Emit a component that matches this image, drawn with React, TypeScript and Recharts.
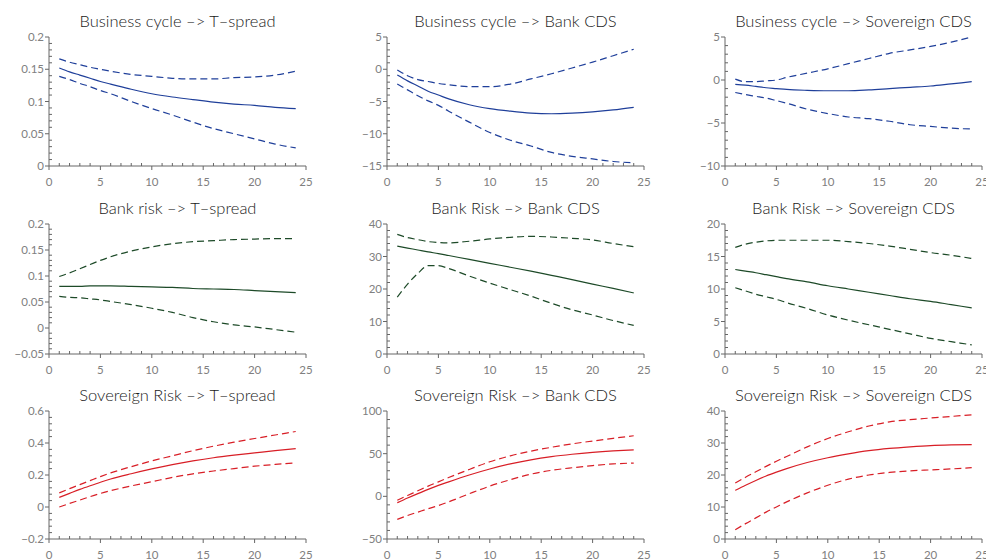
import { LineChart, Line, XAxis, YAxis } from 'recharts';

// horizon (x) at which the impulse responses are read
const steps = [1, 2, 3, 4, 5, 6, 8, 10, 12, 14, 16, 18, 20, 22, 24];
const xTickLabels = [0, 5, 10, 15, 20, 25];

// Business cycle -> T-spread
const bcTsIrf = [0.152, 0.146, 0.141, 0.136, 0.131, 0.127, 0.119, 0.112, 0.107, 0.103, 0.099, 0.096, 0.094, 0.091, 0.089];
const bcTsUp = [0.166, 0.161, 0.157, 0.153, 0.15, 0.147, 0.142, 0.139, 0.136, 0.135, 0.135, 0.137, 0.138, 0.141, 0.147];
const bcTsLo = [0.139, 0.134, 0.128, 0.123, 0.117, 0.112, 0.1, 0.089, 0.079, 0.068, 0.058, 0.05, 0.042, 0.034, 0.028];

// Business cycle -> Bank CDS
const bcBankIrf = [-0.9, -1.8, -2.6, -3.4, -4.0, -4.6, -5.5, -6.1, -6.5, -6.8, -6.9, -6.8, -6.6, -6.3, -5.9];
const bcBankUp = [-0.1, -1.0, -1.6, -1.9, -2.2, -2.4, -2.7, -2.7, -2.3, -1.5, -0.7, 0.2, 1.1, 2.1, 3.1];
const bcBankLo = [-2.3, -3.2, -4.1, -4.9, -5.6, -6.5, -8.2, -9.8, -11.0, -11.9, -12.9, -13.5, -13.9, -14.3, -14.5];

// Business cycle -> Sovereign CDS
const bcSovIrf = [-0.5, -0.6, -0.75, -0.9, -1.0, -1.1, -1.2, -1.25, -1.25, -1.15, -1.0, -0.85, -0.7, -0.45, -0.2];
const bcSovUp = [0.1, -0.2, -0.2, -0.1, 0.0, 0.3, 0.8, 1.3, 1.9, 2.5, 3.1, 3.5, 3.9, 4.4, 5.0];
const bcSovLo = [-1.45, -1.7, -1.9, -2.1, -2.4, -2.7, -3.4, -3.9, -4.3, -4.5, -4.8, -5.2, -5.4, -5.6, -5.7];

// Bank risk -> T-spread
const brTsIrf = [0.08, 0.08, 0.08, 0.081, 0.081, 0.081, 0.08, 0.079, 0.078, 0.076, 0.075, 0.074, 0.072, 0.07, 0.068];
const brTsUp = [0.099, 0.106, 0.114, 0.122, 0.13, 0.137, 0.148, 0.156, 0.162, 0.166, 0.168, 0.17, 0.171, 0.172, 0.172];
const brTsLo = [0.061, 0.059, 0.058, 0.056, 0.054, 0.051, 0.045, 0.038, 0.03, 0.02, 0.012, 0.006, 0.002, -0.003, -0.008];

// Bank Risk -> Bank CDS
const brBankIrf = [33.2, 32.6, 32.0, 31.4, 30.9, 30.3, 29.1, 27.9, 26.7, 25.5, 24.2, 22.9, 21.5, 20.2, 18.8];
const brBankUp = [36.8, 35.8, 35.2, 34.6, 34.3, 34.2, 34.7, 35.4, 35.9, 36.2, 36.0, 35.6, 35.1, 34.0, 33.0];
const brBankLo = [17.5, 21.5, 24.8, 27.2, 27.2, 26.3, 24.0, 21.8, 19.8, 17.8, 15.6, 13.6, 12.0, 10.3, 8.8];

// Bank Risk -> Sovereign CDS
const brSovIrf = [13.0, 12.75, 12.5, 12.2, 11.9, 11.6, 11.1, 10.5, 10.0, 9.5, 9.0, 8.5, 8.1, 7.6, 7.1];
const brSovUp = [16.4, 16.9, 17.2, 17.4, 17.5, 17.5, 17.5, 17.5, 17.3, 17.0, 16.6, 16.1, 15.6, 15.2, 14.7];
const brSovLo = [10.2, 9.7, 9.2, 8.8, 8.4, 7.9, 7.0, 6.0, 5.2, 4.5, 3.8, 3.1, 2.4, 1.9, 1.4];

// Sovereign Risk -> T-spread
const srTsIrf = [0.06, 0.085, 0.11, 0.133, 0.155, 0.175, 0.208, 0.238, 0.265, 0.288, 0.308, 0.324, 0.338, 0.352, 0.365];
const srTsUp = [0.088, 0.115, 0.14, 0.165, 0.19, 0.213, 0.252, 0.288, 0.32, 0.352, 0.38, 0.405, 0.428, 0.45, 0.472];
const srTsLo = [0.0, 0.022, 0.043, 0.065, 0.085, 0.102, 0.132, 0.158, 0.185, 0.207, 0.225, 0.24, 0.255, 0.266, 0.275];

// Sovereign Risk -> Bank CDS
const srBankIrf = [-7.5, -2.0, 3.2, 8.2, 12.8, 17.0, 25.0, 32.0, 38.0, 42.8, 46.5, 49.3, 51.5, 53.2, 54.5];
const srBankUp = [-4.5, 1.0, 6.5, 12.0, 17.0, 22.0, 31.5, 40.5, 47.5, 53.0, 57.5, 61.5, 64.8, 68.0, 71.0];
const srBankLo = [-27.0, -22.5, -18.5, -14.5, -10.8, -6.5, 3.0, 12.0, 19.5, 26.0, 30.5, 33.5, 36.0, 38.0, 39.0];

// Sovereign Risk -> Sovereign CDS
const srSovIrf = [15.2, 16.8, 18.3, 19.7, 20.9, 22.0, 23.9, 25.4, 26.6, 27.6, 28.3, 28.8, 29.2, 29.4, 29.5];
const srSovUp = [17.5, 19.3, 21.0, 22.7, 24.3, 25.8, 28.8, 31.4, 33.5, 35.3, 36.6, 37.3, 37.8, 38.3, 38.8];
const srSovLo = [2.9, 4.8, 6.6, 8.4, 10.0, 11.6, 14.4, 16.8, 18.7, 20.0, 20.8, 21.3, 21.6, 21.9, 22.3];

const BLUE = '#1f3f9a';
const GREEN = '#1d4a28';
const RED = '#d81e26';
const AXIS = '#666';
const LABEL = '#808080';
const FONT = 'Lato, "DejaVu Sans", sans-serif';

const panels = [
  { title: 'Business cycle –> T–spread', irf: bcTsIrf, up: bcTsUp, lo: bcTsLo, color: BLUE, majors: [0, 0.05, 0.1, 0.15, 0.2], minor: 0.01 },
  { title: 'Business cycle –> Bank CDS', irf: bcBankIrf, up: bcBankUp, lo: bcBankLo, color: BLUE, majors: [-15, -10, -5, 0, 5], minor: 1 },
  { title: 'Business cycle –> Sovereign CDS', irf: bcSovIrf, up: bcSovUp, lo: bcSovLo, color: BLUE, majors: [-10, -5, 0, 5], minor: 1 },
  { title: 'Bank risk –> T–spread', irf: brTsIrf, up: brTsUp, lo: brTsLo, color: GREEN, majors: [-0.05, 0, 0.05, 0.1, 0.15, 0.2], minor: 0.01 },
  { title: 'Bank Risk –> Bank CDS', irf: brBankIrf, up: brBankUp, lo: brBankLo, color: GREEN, majors: [0, 10, 20, 30, 40], minor: 2 },
  { title: 'Bank Risk –> Sovereign CDS', irf: brSovIrf, up: brSovUp, lo: brSovLo, color: GREEN, majors: [0, 5, 10, 15, 20], minor: 1 },
  { title: 'Sovereign Risk –> T–spread', irf: srTsIrf, up: srTsUp, lo: srTsLo, color: RED, majors: [-0.2, 0, 0.2, 0.4, 0.6], minor: 0.04 },
  { title: 'Sovereign Risk –> Bank CDS', irf: srBankIrf, up: srBankUp, lo: srBankLo, color: RED, majors: [-50, 0, 50, 100], minor: 10 },
  { title: 'Sovereign Risk –> Sovereign CDS', irf: srSovIrf, up: srSovUp, lo: srSovLo, color: RED, majors: [0, 10, 20, 30, 40], minor: 2 },
];

const colLeft = [49, 387, 725];
const rowTop = [37, 224, 411];
const rowHeight = [129, 130, 128];
const PLOT_W = 257;
const Y_W = 60;
const TOP = 10;
const RIGHT = 12;
const X_H = 24;

const round = (v: number) => Math.round(v * 1e6) / 1e6;
const fmt = (v: number) => String(round(v)).replace('-', '−');
const isMajor = (v: number, majors: number[]) => majors.some((m) => Math.abs(m - v) < 1e-9);

const minorTicks = (min: number, max: number, step: number) => {
  const out: number[] = [];
  const n = Math.round((max - min) / step);
  for (let i = 0; i <= n; i++) out.push(round(min + i * step));
  return out;
};

const YTick = ({ x, y, payload, majors }: any) => {
  const major = isMajor(payload.value, majors);
  if (!major) return <line x1={x} x2={x + 3} y1={y} y2={y} stroke={AXIS} strokeWidth={1} />;
  return (
    <g>
      <line x1={x - 4} x2={x} y1={y} y2={y} stroke={AXIS} strokeWidth={1} />
      <text x={x - 5} y={y} dy="0.35em" textAnchor="end" fill={LABEL} fontSize={11.5} fontFamily={FONT}>
        {fmt(payload.value)}
      </text>
    </g>
  );
};

const XTick = ({ x, y, payload }: any) => {
  const major = isMajor(payload.value, xTickLabels);
  if (!major) return <line x1={x} x2={x} y1={y} y2={y - 3} stroke={AXIS} strokeWidth={1} />;
  return (
    <g>
      <line x1={x} x2={x} y1={y} y2={y + 4} stroke={AXIS} strokeWidth={1} />
      <text x={x} y={y + 16} dy="0.35em" textAnchor="middle" fill={LABEL} fontSize={11.5} fontFamily={FONT}>
        {fmt(payload.value)}
      </text>
    </g>
  );
};

const Panel = ({ p, row, col }: any) => {
  const data = steps.map((s, i) => ({ step: s, irf: p.irf[i], up: p.up[i], lo: p.lo[i] }));
  const plotH = rowHeight[row];
  const ymin = p.majors[0];
  const ymax = p.majors[p.majors.length - 1];
  const xTicks = minorTicks(0, 25, 1);
  const yTicks = minorTicks(ymin, ymax, p.minor);
  return (
    <>
      <div
        style={{
          position: 'absolute',
          left: colLeft[col] - 40,
          top: rowTop[row] - 24,
          width: PLOT_W + 80,
          textAlign: 'center',
          fontFamily: FONT,
          fontSize: 16.5,
          fontWeight: 300,
          lineHeight: '16px',
          color: '#1a1a1a',
          whiteSpace: 'nowrap',
        }}
      >
        {p.title}
      </div>
      <div style={{ position: 'absolute', left: colLeft[col] - Y_W, top: rowTop[row] - TOP }}>
        <LineChart
          width={Y_W + PLOT_W + RIGHT}
          height={TOP + plotH + X_H}
          data={data}
          margin={{ top: TOP, right: RIGHT, bottom: 0, left: 0 }}
        >
          <XAxis
            dataKey="step"
            type="number"
            domain={[0, 25]}
            ticks={xTicks}
            interval={0}
            height={X_H}
            tickSize={0}
            tickMargin={0}
            axisLine={{ stroke: AXIS }}
            tick={(props: any) => <XTick {...props} />}
          />
          <YAxis
            type="number"
            domain={[ymin, ymax]}
            ticks={yTicks}
            interval={0}
            width={Y_W}
            tickSize={0}
            tickMargin={0}
            axisLine={{ stroke: AXIS }}
            tick={(props: any) => <YTick {...props} majors={p.majors} />}
          />
          <Line dataKey="up" type="monotone" stroke={p.color} strokeWidth={1.2} strokeDasharray="7 4" dot={false} isAnimationActive={false} />
          <Line dataKey="lo" type="monotone" stroke={p.color} strokeWidth={1.2} strokeDasharray="7 4" dot={false} isAnimationActive={false} />
          <Line dataKey="irf" type="monotone" stroke={p.color} strokeWidth={1.2} dot={false} isAnimationActive={false} />
        </LineChart>
      </div>
    </>
  );
};

export default function App() {
  return (
    <div style={{ position: 'absolute', left: 0, top: 0, width: 986, height: 560, overflow: 'hidden', background: '#fff' }}>
      {panels.map((p, i) => (
        <Panel key={i} p={p} row={Math.floor(i / 3)} col={i % 3} />
      ))}
    </div>
  );
}
